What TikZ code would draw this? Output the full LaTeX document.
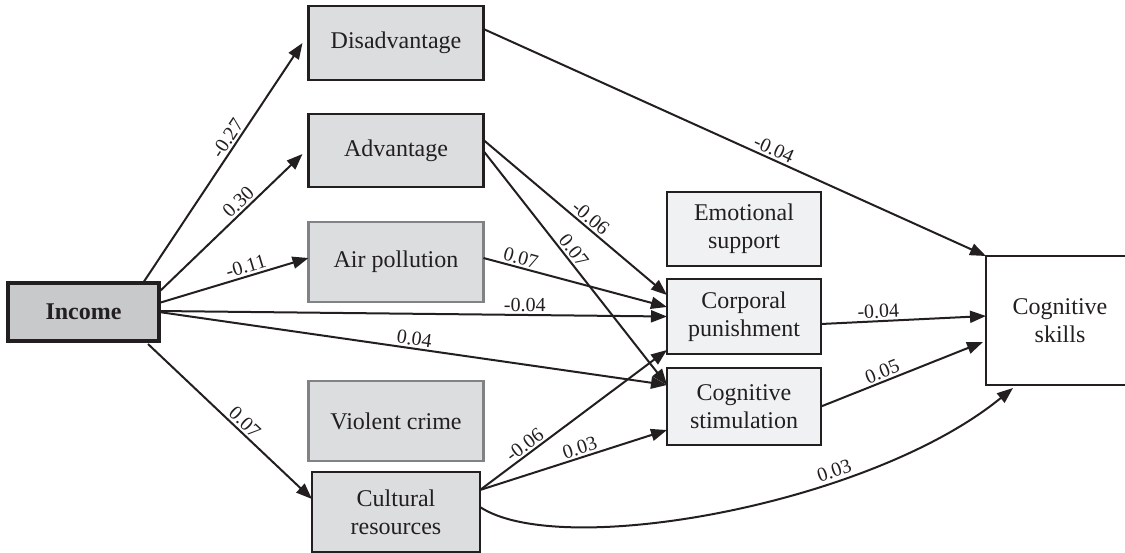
\documentclass[tikz,border=0pt]{standalone}
\usepackage{fontspec}
\setmainfont{Liberation Serif}
\usetikzlibrary{arrows.meta, positioning}
\definecolor{my_dark}{RGB}{35, 31, 32}
\definecolor{my_grey}{RGB}{220, 221, 223}
\definecolor{my_income}{RGB}{200, 201, 203}
\definecolor{my_light}{RGB}{240, 241, 243}
\definecolor{my_border}{RGB}{128, 130, 133}
\tikzset {
  factor/.style = {draw=my_dark, line width=2.5pt, fill=my_grey, rectangle, align=center, text=my_dark, minimum width=175pt, minimum height=80pt, font=\fontsize{24}{28}\selectfont},
  source/.style = {factor, fill=my_income, line width=3.5pt, font=\fontsize{24}{28}\selectfont\bfseries},
  mediator/.style = {factor, fill=my_light, line width=2pt, minimum width=154pt},
  outcome/.style = {factor, fill=white, line width=2pt},
  line/.style = {-{Triangle[length=16pt, width=12pt]}, line width=2pt, draw=my_dark},
  coef/.style = {font=\fontsize{20}{22}\selectfont, text=my_dark, sloped, above, inner sep=3pt}
}

\begin{document}
\begin{tikzpicture}[x=1pt, y=-1pt, outer sep=0pt]
    \useasboundingbox (0,0) rectangle (1125,552);

    \node[source, name=inc, minimum width=151pt, minimum height=58pt] (inc) at (83.5,312) {Income};
    \node[factor, name=dis, minimum height=74pt] (dis) at (396,43) {Disadvantage};
    \node[factor, name=adv, minimum height=73pt, below=34pt of dis] (adv) {Advantage};
    \node[factor, draw=my_border, name=air, below=35pt of adv] (air) {Air pollution};
    \node[factor, draw=my_border, name=vio, below=79pt of air] (vio) {Violent crime};
    \node[factor, name=cult, minimum width=168pt, below=11pt of vio] (cult) {Cultural\\resources};
    \node[mediator, name=emo, minimum height=74pt] (emo) at (744,229) {Emotional\\support};
    \node[mediator, name=cor, minimum height=75pt, below=13pt of emo] (cor) {Corporal\\punishment};
    \node[mediator, name=stim, minimum height=77pt, below=14pt of cor] (stim) {Cognitive\\stimulation};
    \node[outcome, name=skills, minimum width=148pt, minimum height=129pt] (skills) at (1060,320.5) {Cognitive\\skills};

    \draw[line] ([xshift=59.5pt]inc.north) -- node[coef, pos=0.58] {-0.27} ([xshift=-6pt]dis.west);
    \draw[line] ([yshift=20pt]inc.east) -- node[coef, pos=0.6] {0.30} ([xshift=-6pt, yshift=-3.5pt]adv.west);
    \draw[line] ([yshift=9pt]inc.east) -- node[coef, pos=0.6] {-0.11} ([yshift=4pt]air.west);
    \draw[line] ([yshift=1pt]inc.east) -- node[coef, pos=0.72] {-0.04} (cor.west);
    \draw[line] (inc.east) -- node[coef, pos=0.5] {0.04} ([yshift=21.5pt]stim.west);
    \draw[line] ([xshift=64.5pt, yshift=-3pt]inc.south) -- node[coef, pos=0.55] {0.07} ([yshift=13pt]cult.west);

    \draw[line] ([yshift=14pt]dis.east) -- node[coef, pos=0.57] {-0.04} (skills.north west);
    \draw[line] ([yshift=10.5pt]adv.east) -- node[coef, pos=0.55] {-0.06} ([yshift=21.5pt]cor.west);
    \draw[line] ([yshift=-0.5pt]adv.east) -- node[coef, pos=0.45] {0.07} ([yshift=21.5pt]stim.west);
    \draw[line] ([yshift=4pt]air.east) -- node[coef, pos=0.19] {0.07} ([yshift=9.5pt]cor.west);
    \draw[line] ([yshift=22pt]cult.east) -- node[coef, pos=0.27] {-0.06} ([yshift=-33.5pt]cor.west);
    \draw[line] ([yshift=22pt]cult.east) -- node[coef, pos=0.55] {0.03} ([yshift=-23.5pt]stim.west);
    \draw[line] ([yshift=5pt]cult.east) .. controls (560,560) and (870,505) .. ([xshift=27pt, yshift=-3pt]skills.south west) node[coef, pos=0.68] {0.03};

    \draw[line] ([yshift=-7.5pt]cor.east) -- node[coef, pos=0.35] {-0.04} ([yshift=4.5pt]skills.west);
    \draw[line] (stim.east) -- node[coef, pos=0.4] {0.05} ([xshift=-3pt, yshift=-21.5pt]skills.west);

\end{tikzpicture}
\end{document}
